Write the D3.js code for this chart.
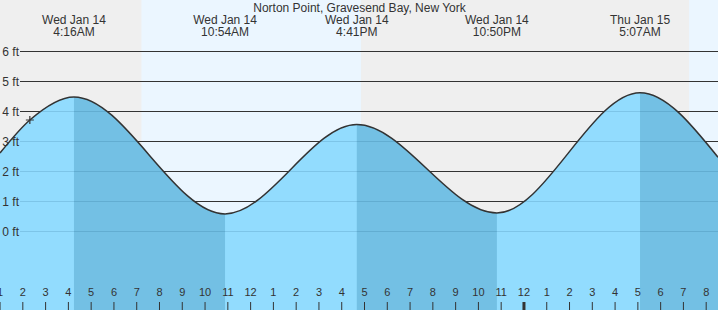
<!DOCTYPE html>
<html>
<head>
<meta charset="utf-8">
<script src="https://cdn.jsdelivr.net/npm/d3@7"></script>
<style>
  html, body { margin: 0; padding: 0; background: #fff; }
  svg { display: block; font-family: "Liberation Sans", Arial, sans-serif; }
</style>
</head>
<body>
<svg id="chart" width="718" height="310"></svg>
<script>
// ---- Data (hours since Wed Jan 14 00:00) ----
const title = "Norton Point, Gravesend Bay, New York";
const extremeTimes   = [4.267, 10.9, 16.683, 22.833, 29.117];
const extremeHeights = [4.47, 0.57, 3.55, 0.6, 4.61];
const extremeTypes   = ["H", "L", "H", "L", "H"];
const extremeDays    = ["Wed Jan 14", "Wed Jan 14", "Wed Jan 14", "Wed Jan 14", "Thu Jan 15"];
const extremeLabels  = ["4:16AM", "10:54AM", "4:41PM", "10:50PM", "5:07AM"];
// extra readings at window edges and the current-time marker
const edgeTimes   = [1.02, 2.33, 32.54];
const edgeHeights = [2.6, 3.7, 2.46];
const nowTime = 2.33, nowHeight = 3.7;
// night intervals (sunset -> sunrise)
const nightStarts = [1.02, 16.87];
const nightEnds   = [7.23, 31.27];
const yTicks = [0, 1, 2, 3, 4, 5, 6];
const hourTicks = d3.range(1, 33);
const windowStart = 1.02, windowEnd = 32.54;

// ---- Setup ----
const W = 718, H = 310;
const svg = d3.select("#chart");
const x = d3.scaleLinear().domain([windowStart, windowEnd]).range([0, W]);
const y = d3.scaleLinear().domain([0, 6]).range([231, 51]);

// background (day)
svg.append("rect").attr("x", 0).attr("y", 0).attr("width", W).attr("height", H).attr("fill", "#ebf6ff");
// night bands
svg.selectAll("rect.night").data(nightStarts).enter().append("rect")
  .attr("class", "night")
  .attr("x", (d) => x(d))
  .attr("y", 0)
  .attr("width", (d, i) => x(nightEnds[i]) - x(d))
  .attr("height", H)
  .attr("fill", "#efefef");

// gridlines (under water)
svg.selectAll("line.grid").data(yTicks).enter().append("line")
  .attr("x1", 20).attr("x2", W)
  .attr("y1", (d) => Math.round(y(d)) + 0.5).attr("y2", (d) => Math.round(y(d)) + 0.5)
  .attr("stroke", "#333").attr("stroke-width", 1);

// tide points
const pts = edgeTimes.map((t, i) => [t, edgeHeights[i]])
  .concat(extremeTimes.map((t, i) => [t, extremeHeights[i]]))
  .sort((a, b) => a[0] - b[0]);

const area = d3.area().x((d) => x(d[0])).y0(H).y1((d) => y(d[1])).curve(d3.curveMonotoneX);
const line = d3.line().x((d) => x(d[0])).y((d) => y(d[1])).curve(d3.curveMonotoneX);

const defs = svg.append("defs");
defs.append("clipPath").attr("id", "water").append("path").attr("d", area(pts));

const wg = svg.append("g").attr("clip-path", "url(#water)");
wg.append("rect").attr("x", 0).attr("y", 0).attr("width", W).attr("height", H).attr("fill", "#92dcfe");
// falling tide bands (high -> next low)
const falling = extremeTimes.map((t, i) => ({ t, i })).filter((d) => extremeTypes[d.i] === "H");
wg.selectAll("rect.fall").data(falling).enter().append("rect")
  .attr("x", (d) => x(d.t))
  .attr("y", 0)
  .attr("width", (d) => (d.i + 1 < extremeTimes.length ? x(extremeTimes[d.i + 1]) : W) - x(d.t))
  .attr("height", H)
  .attr("fill", "#73c0e4");
// faint gridlines over water
wg.selectAll("line.g2").data(yTicks).enter().append("line")
  .attr("x1", 20).attr("x2", W)
  .attr("y1", (d) => Math.round(y(d)) + 0.5).attr("y2", (d) => Math.round(y(d)) + 0.5)
  .attr("stroke", "rgba(0,60,100,0.14)").attr("stroke-width", 1);

// tide line
svg.append("path").attr("d", line(pts)).attr("fill", "none")
  .attr("stroke", "#333").attr("stroke-width", 1.5);

// current time marker
svg.append("path")
  .attr("d", `M${x(nowTime) - 4},${y(nowHeight)}h8M${x(nowTime)},${y(nowHeight) - 4}v8`)
  .attr("stroke", "#333").attr("stroke-width", 1.2).attr("fill", "none");

// y labels
svg.selectAll("text.ylab").data(yTicks).enter().append("text")
  .attr("x", 19).attr("y", (d) => y(d) + 4.5)
  .attr("text-anchor", "end").attr("font-size", 12).attr("fill", "#333")
  .text((d) => d + " ft");

// x axis (hours)
const xAxis = d3.axisBottom(x).tickValues(hourTicks).tickSize(0).tickPadding(0)
  .tickFormat((h) => { const m = h % 12; return m === 0 ? "12" : String(m); });
const ax = svg.append("g").attr("transform", "translate(0,288)").call(xAxis);
ax.select(".domain").remove();
ax.selectAll("text").attr("font-size", 11).attr("fill", "#333").attr("font-family", "Liberation Sans, Arial, sans-serif").attr("dy", "0.71em");
ax.selectAll(".tick").append("line")
  .attr("y1", 14).attr("y2", 22)
  .attr("stroke", "#333")
  .attr("stroke-width", (h) => (h % 24 === 0 ? 3 : 1));

// title
svg.append("text").attr("x", 359.5).attr("y", 11.5).attr("text-anchor", "middle")
  .attr("font-size", 12).attr("fill", "#333").text(title);

// extreme labels
const lab = svg.selectAll("g.ext").data(extremeTimes).enter().append("g")
  .attr("transform", (d) => `translate(${x(d)},0)`);
lab.append("text").attr("y", 24).attr("text-anchor", "middle").attr("font-size", 12).attr("fill", "#333")
  .text((d, i) => extremeDays[i]);
lab.append("text").attr("y", 36).attr("text-anchor", "middle").attr("font-size", 12).attr("fill", "#333")
  .text((d, i) => extremeLabels[i]);
</script>
</body>
</html>
